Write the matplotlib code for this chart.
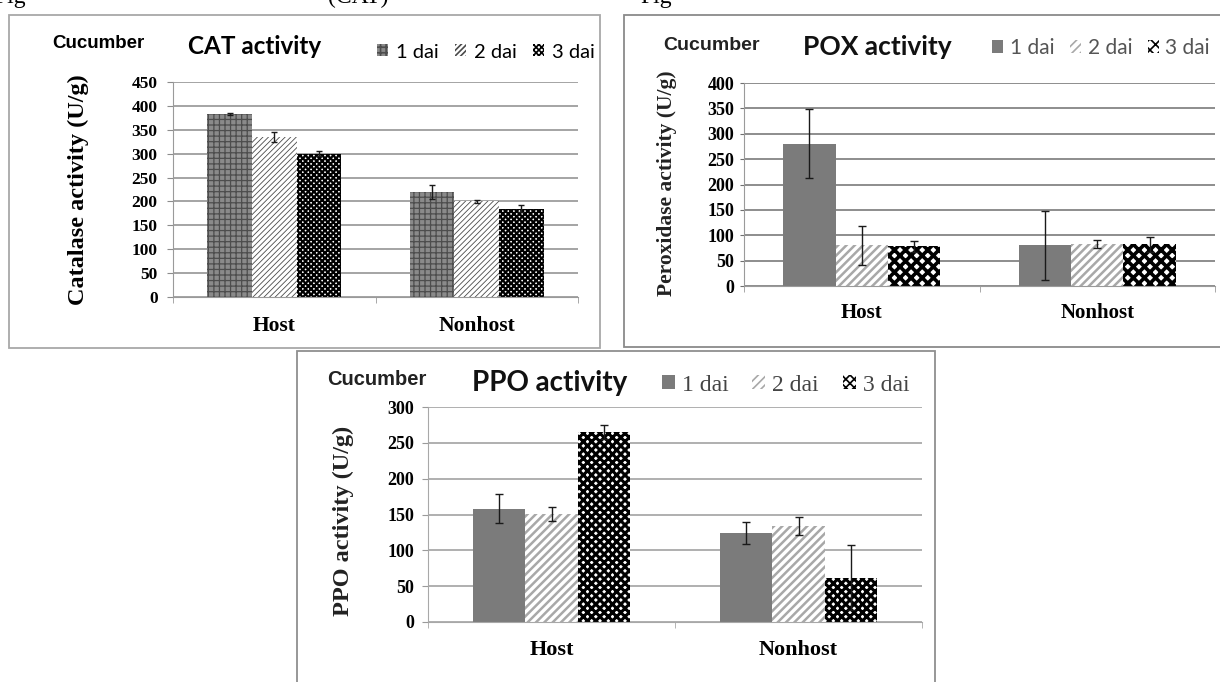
import matplotlib
matplotlib.use('Agg')
import matplotlib.pyplot as plt
from matplotlib.patches import Rectangle
import numpy as np

# data
groups = ['Host', 'Nonhost']
series = ['1 dai', '2 dai', '3 dai']

cat_vals = [[383, 220], [335, 200], [300, 185]]
cat_err = [[3, 15], [10, 4], [5, 7]]

pox_vals = [[280, 80], [80, 83], [78, 82]]
pox_err = [[68, 68], [38, 8], [11, 15]]

ppo_vals = [[158, 124], [151, 134], [265, 62]]
ppo_err = [[20, 15], [10, 12], [10, 45]]

W, H = 1220, 682
SERIF = 'Liberation Serif'

fig = plt.figure(figsize=(W / 100, H / 100), dpi=100)
fig.patch.set_facecolor('white')


def fx(x):
    return x / W


def fy(y):
    return 1 - y / H


def border(x0, y0, x1, y1, color):
    r = Rectangle((fx(x0), fy(y1)), (x1 - x0) / W, (y1 - y0) / H,
                  transform=fig.transFigure, facecolor='white',
                  edgecolor=color, lw=1.3, zorder=0)
    fig.add_artist(r)


def px_axes(x0, y0, x1, y1):
    return fig.add_axes([fx(x0), fy(y1), (x1 - x0) / W, (y1 - y0) / H])


def panel(ax, vals, errs, ymax, step, styles, width, grid_color, spine_color,
          tick_size, cat_size, cat_pad, ytick_pad, ytick_len, capsize):
    x = np.arange(len(groups))
    handles = []
    for i, (v, e, st) in enumerate(zip(vals, errs, styles)):
        face, hatch, hcol, hlw = st
        bars = ax.bar(x + (i - 1) * width, v, width, color=face, hatch=hatch,
                      edgecolor=hcol, linewidth=0, zorder=2, label=series[i])
        for b in bars:
            if hasattr(b, 'set_hatch_linewidth'):
                b.set_hatch_linewidth(hlw)
        ax.errorbar(x + (i - 1) * width, v, yerr=e, fmt='none', ecolor='#1a1a1a',
                    elinewidth=1, capsize=capsize, capthick=1, zorder=3)
        handles.append(bars)
    ax.set_xlim(-0.5, 1.5)
    ax.set_ylim(0, ymax)
    ticks = np.arange(0, ymax + 1, step)
    ax.set_yticks(ticks)
    ax.set_yticklabels([str(t) for t in ticks],
                       fontfamily=SERIF, fontweight='bold', fontsize=tick_size)
    ax.set_xticks(x)
    ax.set_xticklabels(groups, fontfamily=SERIF, fontweight='bold', fontsize=cat_size)
    ax.set_xticks([-0.5, 0.5, 1.5], minor=True)
    ax.tick_params(axis='x', which='major', length=0, pad=cat_pad)
    ax.tick_params(axis='x', which='minor', length=4, color=spine_color, direction='out')
    ax.tick_params(axis='y', length=ytick_len, color=grid_color, pad=ytick_pad)
    ax.yaxis.grid(True, color=grid_color, lw=1.1)
    ax.set_axisbelow(True)
    for s in ['top', 'right']:
        ax.spines[s].set_visible(False)
    ax.spines['bottom'].set_color(spine_color)
    ax.spines['left'].set_color(spine_color)
    ax.spines['left'].set_linewidth(0.8)
    ax.patch.set_alpha(0)
    return handles


plt.rcParams['hatch.linewidth'] = 1.2

# clipped caption line above the panels (cut off in the source image too)
for xpos, txt in [(-6, 'Fig'), (328, '(CAT)'), (640, 'Fig')]:
    fig.text(fx(xpos), fy(3), txt, fontfamily=SERIF, fontsize=17,
             ha='left', va='baseline')

# ---------------- CAT panel ----------------
border(9, 15, 600, 348, '#a8a8a8')
ax1 = px_axes(173, 82, 578, 297)
cat_styles = [('#8a8a8a', '+++', '#4d4d4d', 0.9),
              ('white', '//////', '#4a4a4a', 0.6),
              ('white', 'xxxxxx', 'black', 1.6)]
h1 = panel(ax1, cat_vals, cat_err, 450, 50, cat_styles, 0.22, '#8c8c8c', '#9a9a9a',
           12.5, 15.5, 14, 7, 4, 2.5)
fig.text(fx(52), fy(43), 'Cucumber', fontfamily='Liberation Sans', fontweight='bold',
         fontsize=13.5, ha='left', va='center')
fig.text(fx(188), fy(47), 'CAT activity', fontfamily='Lato', fontweight='bold',
         fontsize=17.5, ha='left', va='center')
fig.text(fx(78), fy(190), 'Catalase activity (U/g)', fontfamily=SERIF,
         fontweight='bold', fontsize=17.5, rotation=90, ha='center', va='center')
fig.legend(h1, series, loc='center left', bbox_to_anchor=(fx(377), fy(52)),
           ncol=3, frameon=False, handlelength=0.55, handleheight=0.55,
           handletextpad=0.4, columnspacing=0.8, borderpad=0, borderaxespad=0,
           prop={'family': 'Lato', 'size': 14.5})

# ---------------- POX panel ----------------
border(624, 15, 1240, 347, '#8a8a8a')
ax2 = px_axes(744, 83, 1215, 286)
pox_styles = [('#7b7b7b', None, '#7b7b7b', 1.0),
              ('white', '////', '#a8a8a8', 1.8),
              ('white', 'xxx', 'black', 2.6)]
h2 = panel(ax2, pox_vals, pox_err, 400, 50, pox_styles, 0.222, '#6f6f6f', '#9a9a9a',
           13, 15, 12, 4, 3, 3)
fig.text(fx(663), fy(45), 'Cucumber', fontfamily='Liberation Sans', fontweight='bold',
         fontsize=14, ha='left', va='center', color='#222222')
fig.text(fx(803), fy(47), 'POX activity', fontfamily='Lato', fontweight='bold',
         fontsize=19, ha='left', va='center', color='#111111')
fig.text(fx(667), fy(183), 'Peroxidase activity (U/g)', fontfamily=SERIF,
         fontweight='bold', fontsize=15.5, rotation=90, ha='center', va='center',
         color='#222222')
fig.legend(h2, series, loc='center left', bbox_to_anchor=(fx(992), fy(48)),
           ncol=3, frameon=False, handlelength=0.55, handleheight=0.55,
           handletextpad=0.3, columnspacing=0.75, borderpad=0, borderaxespad=0,
           prop={'family': 'Lato', 'size': 15}, labelcolor='#555555')

# ---------------- PPO panel ----------------
border(297, 351, 935, 700, '#8f8f8f')
ax3 = px_axes(428, 407, 922, 622)
ppo_styles = [('#7b7b7b', None, '#7b7b7b', 1.0),
              ('white', '////', '#a8a8a8', 1.8),
              ('white', 'xxxx', 'black', 2.2)]
h3 = panel(ax3, ppo_vals, ppo_err, 300, 50, ppo_styles, 0.212, '#9a9a9a', '#a8a8a8',
           13, 16, 13, 6, 4, 3)
fig.text(fx(327), fy(380), 'Cucumber', fontfamily='Liberation Sans', fontweight='bold',
         fontsize=14.5, ha='left', va='center', color='#222222')
fig.text(fx(472), fy(383), 'PPO activity', fontfamily='Lato', fontweight='bold',
         fontsize=20, ha='left', va='center', color='#111111')
fig.text(fx(343), fy(521), 'PPO activity (U/g)', fontfamily=SERIF,
         fontweight='bold', fontsize=17.5, rotation=90, ha='center', va='center',
         color='#222222')
fig.legend(h3, series, loc='center left', bbox_to_anchor=(fx(662), fy(385)),
           ncol=3, frameon=False, handlelength=0.55, handleheight=0.55,
           handletextpad=0.3, columnspacing=1.0, borderpad=0, borderaxespad=0,
           prop={'family': SERIF, 'size': 17}, labelcolor='#444444')

plt.savefig('out.png', dpi=100, facecolor='white')
